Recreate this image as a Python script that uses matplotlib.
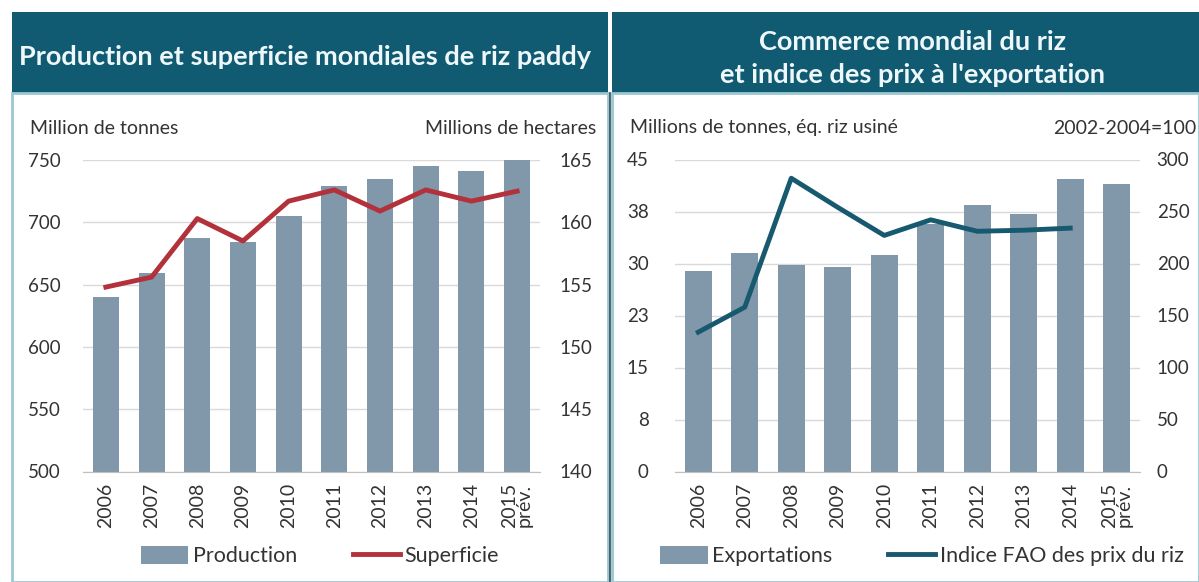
import numpy as np
import matplotlib.pyplot as plt
from matplotlib.patches import Rectangle
from matplotlib.lines import Line2D

plt.rcParams['font.family'] = ['Lato', 'DejaVu Sans']

# data
years = ['2006', '2007', '2008', '2009', '2010', '2011', '2012', '2013', '2014', '2015\nprév.']
production = [640, 659, 687, 684, 705, 729, 735, 745, 741, 750]      # million tonnes paddy
superficie = [154.8, 155.6, 160.3, 158.5, 161.7, 162.6, 160.9, 162.6, 161.7, 162.5]  # million ha
exportations = [28.9, 31.5, 29.8, 29.5, 31.2, 35.7, 38.5, 37.1, 42.2, 41.4]  # million t milled eq.
indice_fao = [134, 158, 282, 254, 227, 242, 231, 232, 234, np.nan]  # 2002-2004=100

W, H = 1199, 582
band_col = '#105a72'
bar_col = '#8098aa'
red_col = '#b3313b'
teal_col = '#17596f'
text_col = '#333333'
grid_col = '#d9d9d9'
border_col = '#9cc6d2'

fig = plt.figure(figsize=(W / 100, H / 100), dpi=100)


def box(x0, y0, x1, y1):
    # pixel box (top-left origin) -> figure fraction rect
    return [x0 / W, 1 - y1 / H, (x1 - x0) / W, (y1 - y0) / H]


def fx(x):
    return x / W


def fy(y):
    return 1 - y / H


# panel backgrounds, title bands and borders
for x0, x1 in [(12, 608), (612, 1199)]:
    fig.patches.append(Rectangle((fx(x0), fy(93)), (x1 - x0) / W, (93 - 12) / H,
                                 transform=fig.transFigure, facecolor=band_col, edgecolor='none', zorder=-10))
    fig.patches.append(Rectangle((fx(x0), fy(H)), (x1 - x0) / W, (H - 93) / H,
                                 transform=fig.transFigure, facecolor='white', edgecolor=border_col,
                                 lw=2, zorder=-10))
fig.lines.append(Line2D([fx(610), fx(610)], [fy(93), fy(H)], transform=fig.transFigure,
                        color='#2f4f5a', lw=1.2, zorder=-5))

# titles
title_kw = dict(color='#eef7fa', fontsize=19.5, fontweight='bold', ha='center', va='center')
fig.text(fx(305), fy(57), 'Production et superficie mondiales de riz paddy', **title_kw)
fig.text(fx(913), fy(42), 'Commerce mondial du riz', **title_kw)
fig.text(fx(913), fy(75), "et indice des prix à l'exportation", **title_kw)

# unit labels
unit_kw = dict(color=text_col, fontsize=14, va='center')
fig.text(fx(30), fy(128), 'Million de tonnes', **unit_kw)
fig.text(fx(596), fy(128), 'Millions de hectares', ha='right', **unit_kw)
fig.text(fx(630), fy(128), 'Millions de tonnes, éq. riz usiné', **unit_kw)
fig.text(fx(1196), fy(128), '2002-2004=100', ha='right', **unit_kw)

x = np.arange(len(years))


def style(ax, ax2, lpad, rpad):
    for a in (ax, ax2):
        for s in a.spines.values():
            s.set_visible(False)
        a.tick_params(length=0, labelsize=13.5, colors=text_col)
    ax.spines['bottom'].set_visible(True)
    ax.spines['bottom'].set_color('#bfbfbf')
    ax.yaxis.grid(True, color=grid_col, lw=1)
    ax.set_axisbelow(True)
    ax.set_xlim(-0.5, len(years) - 0.5)
    ax.set_xticks(x)
    ax.set_xticklabels(years, rotation=90, fontsize=14, color=text_col, linespacing=0.8)
    ax.tick_params(axis='x', pad=8)
    ax.tick_params(axis='y', pad=lpad)
    ax2.tick_params(axis='y', pad=rpad)
    ax.patch.set_alpha(0)


leg_kw = dict(loc='center', ncol=2, frameon=False, fontsize=15.5, handlelength=2.2,
              handleheight=0.9, handletextpad=0.2, columnspacing=2.6, labelcolor=text_col)

# left chart
ax1 = fig.add_axes(box(83, 160, 540, 471.5))
ax1b = ax1.twinx()
ax1.bar(x, production, width=0.57, color=bar_col, label='Production')
ax1b.plot(x, superficie, color=red_col, lw=3.5, label='Superficie')
ax1.set_ylim(500, 750)
ax1.set_yticks(np.arange(500, 751, 50))
ax1b.set_ylim(140, 165)
ax1b.set_yticks(np.arange(140, 166, 5))
style(ax1, ax1b, 16, 14)
h1 = [ax1.containers[0], ax1b.lines[0]]
fig.legend(h1, ['Production', 'Superficie'], bbox_to_anchor=(fx(320), fy(556)), **leg_kw)

# right chart
ax2 = fig.add_axes(box(675, 159.5, 1140, 471.5))
ax2b = ax2.twinx()
ax2.bar(x, exportations, width=0.57, color=bar_col, label='Exportations')
ax2b.plot(x, indice_fao, color=teal_col, lw=3.5, label='Indice FAO des prix du riz')
ax2.set_ylim(0, 45)
ax2.set_yticks(np.arange(0, 45.1, 7.5))
ax2.set_yticklabels(['0', '8', '15', '23', '30', '38', '45'])
ax2b.set_ylim(0, 300)
ax2b.set_yticks(np.arange(0, 301, 50))
style(ax2, ax2b, 19, 12)
h2 = [ax2.containers[0], ax2b.lines[0]]
fig.legend(h2, ['Exportations', 'Indice FAO des prix du riz'], bbox_to_anchor=(fx(922), fy(556)), **leg_kw)

fig.savefig('out.png', dpi=100)
